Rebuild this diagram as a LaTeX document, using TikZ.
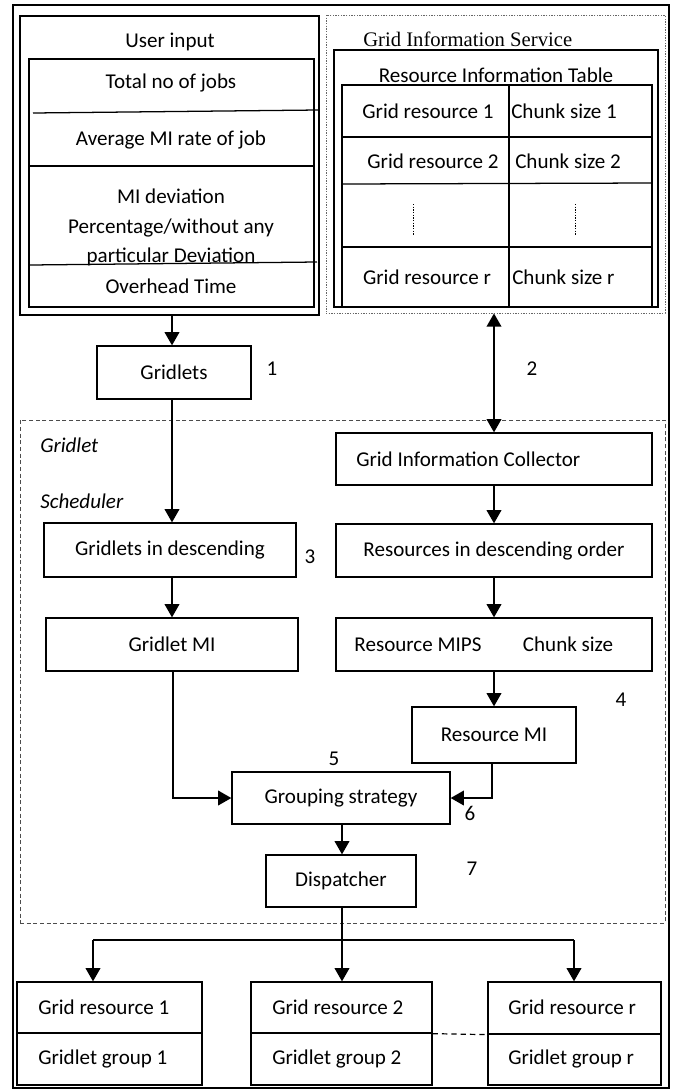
\documentclass[tikz,border=0pt]{standalone}
\usepackage{fontspec}
\setmainfont{Carlito}
\newfontfamily\seriffont{Liberation Serif}
\usetikzlibrary{arrows.meta,fit}
\begin{document}
\begin{tikzpicture}[x=0.75pt,y=-0.75pt,
  font=\fontsize{15.8}{19}\selectfont,
  box/.style={draw, line width=0.95pt, inner sep=0pt},
  heavy/.style={draw, line width=1.3pt, inner sep=0pt},
  txt/.style={inner sep=0pt},
  flow/.style={line width=1.5pt, -{Triangle[length=10pt,width=11pt]}},
  both/.style={line width=1.5pt, {Triangle[length=10pt,width=11pt]}-{Triangle[length=10pt,width=11pt]}},
  plain/.style={line width=1.5pt},
  rule/.style={line width=0.95pt},
  dashframe/.style={draw, inner sep=0pt, line width=0.6pt, black!70, dash pattern=on 3pt off 2pt},
  dotframe/.style={draw, inner sep=0pt, line width=0.6pt, black!60, dash pattern=on 1pt off 1pt},
  num/.style={inner sep=0pt}]
\useasboundingbox (0,0) rectangle (675,1090);

% outer frame
\node[heavy, fit={(13,5)(669,1088)}] (frame) {};

% user input block
\node[heavy, fit={(20,16)(319,315)}] (ui) {};
\node[box, fit={(29,59)(314,307)}] (uitab) {};
\node[txt] (uititle) at (170,42) {User input};
\draw[rule] (33,113) -- (318,110);
\draw[rule] (uitab.west |- 0,166) -- (uitab.east |- 0,166);
\draw[rule] (30,265) -- (317,262);
\node[txt] (ui1) at (171,83) {Total no of jobs};
\node[txt] (ui2) at (171,140) {Average MI rate of job};
\node[txt] (ui3) at (171,196) {MI deviation};
\node[txt] (ui4) at (171,228) {Percentage/without any};
\node[txt] (ui5) at (171,257) {particular Deviation};
\node[txt] (ui6) at (171,286) {Overhead Time};

% grid information service
\node[dotframe, fit={(326,15)(665,313)}] (gis) {};
\node[txt, anchor=base west] (gistitle) at (363,46) {\fontsize{15.5}{18}\seriffont Grid Information Service};
\node[box, fit={(334,50)(658,307)}] (gisbox) {};
\node[txt] (rittitle) at (496,75) {Resource Information Table};
\node[box, fit={(342,85)(652,307)}] (rit) {};
\draw[rule] (509,85) -- (509,307);
\draw[rule] (342,137) -- (652,137);
\draw[rule] (342,184) -- (652,183);
\draw[rule] (342,247) -- (652,247);
\node[txt] (r1) at (428,111) {Grid resource 1};
\node[txt, anchor=west] (c1) at (511,111) {Chunk size 1};
\node[txt] (r2) at (433,161) {Grid resource 2};
\node[txt, anchor=west] (c2) at (515,161) {Chunk size 2};
\draw[line width=0.5pt, dash pattern=on 1pt off 1pt] (413,204) -- (413,235);
\draw[line width=0.5pt, dash pattern=on 1pt off 1pt] (575,204) -- (575,235);
\node[txt] (rr) at (427,277) {Grid resource r};
\node[txt, anchor=west] (cr) at (512,277) {Chunk size r};

% gridlets
\node[box, fit={(97,346)(251,399)}, label={center:Gridlets}] (gridlets) {};
\node[num] (n1) at (272,369) {1};
\node[num] (n2) at (532,369) {2};

% scheduler area
\node[dashframe, fit={(20,420)(665,923)}] (sched) {};
\node[txt, anchor=west] (schedA) at (40,445) {\itshape Gridlet};
\node[txt, anchor=west] (schedB) at (40,501) {\itshape Scheduler};

\node[box, fit={(336,433)(652,485)}] (gic) {};
\node[txt, anchor=west] (gictext) at (356,459) {Grid Information Collector};
\node[box, fit={(44,523)(296,577)}, label={center:Gridlets in descending}] (gdesc) {};
\node[num] (n3) at (310,557) {3};
\node[box, fit={(336,524)(652,577)}, label={center:Resources in descending order}] (rdesc) {};
\node[box, fit={(46,618)(298,671)}, label={center:Gridlet MI}] (gmi) {};
\node[box, fit={(336,618)(652,671)}] (rmips) {};
\node[txt, anchor=base] (rmipsA) at (418,651) {Resource MIPS};
\node[txt, anchor=base] (rmipsB) at (568,651) {Chunk size};
\node[box, fit={(412,707)(576,763)}, label={center:Resource MI}] (rmi) {};
\node[num] (n4) at (621,700) {4};
\node[box, fit={(232,772)(450,824)}, label={center:Grouping strategy}] (group) {};
\node[num] (n5) at (334,759) {5};
\node[num] (n6) at (470,813) {6};
\node[box, fit={(266,855)(416,907)}, label={center:Dispatcher}] (disp) {};
\node[num] (n7) at (472,869) {7};

% resource boxes
\node[box, fit={(17,982)(202,1033)}] (res1) {};
\node[box, fit={(17,1033)(202,1085)}] (grp1) {};
\node[box, fit={(251,982)(432,1033)}] (res2) {};
\node[box, fit={(251,1033)(432,1085)}] (grp2) {};
\node[box, fit={(488,982)(661,1034)}] (resr) {};
\node[box, fit={(488,1034)(661,1085)}] (grpr) {};
\node[txt, anchor=west] (res1t) at (38,1007) {Grid resource 1};
\node[txt, anchor=west] (grp1t) at (38,1059) {Gridlet group 1};
\node[txt, anchor=west] (res2t) at (272,1007) {Grid resource 2};
\node[txt, anchor=west] (grp2t) at (272,1059) {Gridlet group 2};
\node[txt, anchor=west] (resrt) at (508,1007) {Grid resource r};
\node[txt, anchor=west] (grprt) at (508,1059) {Gridlet group r};
\draw[line width=0.9pt, dash pattern=on 4pt off 3pt] (res2.south east) -- (resr.south west);

% connectors
\draw[flow] (ui.south -| 172,0) -- (gridlets.north -| 172,0);
\draw[flow] (gridlets.south -| 172,0) -- (gdesc.north -| 172,0);
\draw[flow] (gdesc.south -| 172,0) -- (gmi.north -| 172,0);
\draw[flow] (gmi.south -| 173,0) |- (group.west);
\draw[both] (gis.south -| gic.north) -- (gic.north);
\draw[flow] (gic.south) -- (rdesc.north);
\draw[flow] (rdesc.south) -- (rmips.north);
\draw[flow] (rmips.south) -- (rmi.north);
\draw[flow] (rmi.south -| 492,0) |- (group.east);
\draw[flow] (group.south -| 342,0) -- (disp.north -| 342,0);

\coordinate (busL) at (93,940);
\coordinate (busR) at (574,940);
\draw[flow] (disp.south -| 342,0) -- (res2.north -| 342,0);
\draw[plain] (busL) -- (busR);
\draw[flow] (busL) -- (busL |- res1.north);
\draw[flow] (busR) -- (busR |- resr.north);
\end{tikzpicture}
\end{document}
